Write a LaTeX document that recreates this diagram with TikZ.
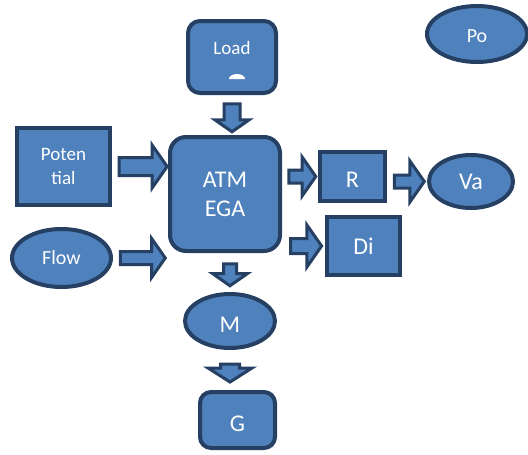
\documentclass[tikz,border=0pt]{standalone}
\usepackage{fontspec}
\setmainfont{Carlito}
\usetikzlibrary{shapes.geometric,shapes.arrows,calc}

\definecolor{boxfill}{RGB}{79,129,189}
\definecolor{boxline}{RGB}{37,64,98}

% fat block arrow between two points, #2 = gap left free at each end
\newcommand\blockarrow[4][]{%
  \path let \p1=($(#4)-(#3)$), \n1={veclen(\x1,\y1)-2*#2} in
    (#3) -- (#4) node[barrow,midway,sloped,allow upside down,minimum height=\n1,#1] {};}

\begin{document}
\begin{tikzpicture}[x=1pt,y=-1pt]
    \tikzstyle{blk}=[draw=boxline,fill=boxfill,line width=4pt,text=white,inner sep=0pt]
    \tikzstyle{sq}=[blk,rectangle]
    \tikzstyle{rsq}=[blk,rectangle,rounded corners=#1]
    \tikzstyle{oval}=[blk,ellipse]
    \tikzstyle{big}=[font=\fontsize{24}{29}\selectfont]
    \tikzstyle{low}=[text height=22pt,text depth=0pt]
    \tikzstyle{barrow}=[single arrow,draw=boxline,fill=boxfill,line width=3pt,line join=miter,
        inner xsep=0pt,inner ysep=5.5pt,minimum width=0pt,
        single arrow head extend=13pt,single arrow tip angle=110]
    \useasboundingbox (0,0) rectangle (528,455);

    % inputs
    \node[rsq=12pt,minimum width=88pt,minimum height=72pt,font=\fontsize{19}{23}\selectfont,
          text height=13pt,text depth=19pt] (load) at (232,57) {Load};
    \fill[white] ($(load.center)+(-3,22)$) arc[start angle=180,end angle=360,x radius=8,y radius=5] -- cycle;
    \node[oval,minimum width=100pt,minimum height=56pt,font=\fontsize{20}{24}\selectfont,
          text height=17pt,text depth=0pt] (po) at (477,34) {Po};
    \node[sq,minimum width=93pt,minimum height=77pt,align=center,font=\fontsize{19}{24}\selectfont] (pot) at (63.5,166.5) {Poten\\tial};
    \node[oval,minimum width=99pt,minimum height=58pt,font=\fontsize{20}{24}\selectfont] (flow) at (61.5,258) {Flow};

    % core
    \node[rsq=16pt,big,minimum width=110pt,minimum height=114pt,align=center] (atm) at (225,194) {ATM\\EGA};

    % outputs
    \node[sq,big,low,minimum width=65pt,minimum height=49pt] (r) at (352.5,176.5) {R};
    \node[oval,big,minimum width=84pt,minimum height=53pt] (va) at (471,181.5) {Va};
    \node[sq,big,minimum width=73pt,minimum height=58pt] (di) at (363.5,246) {Di};
    \node[oval,big,low,minimum width=90pt,minimum height=54pt] (m) at (230,321) {M};
    \node[rsq=11pt,big,low,minimum width=75pt,minimum height=56pt] (g) at (237.5,420) {G};

    \blockarrow[inner ysep=6.5pt,single arrow head extend=9pt]{6pt}{load.south}{load.south |- atm.north}
    \blockarrow[inner ysep=7.5pt,single arrow head extend=12.5pt]{4pt}{pot.east}{pot.east -| atm.west}
    \blockarrow[inner ysep=5pt]{5pt}{flow.east}{flow.east -| atm.west}
    \blockarrow[inner ysep=5pt,single arrow head extend=11pt]{8.5pt}{atm.south -| m.north}{m.north}
    \blockarrow[inner ysep=8pt,single arrow head extend=12.5pt,single arrow tip angle=115]{11pt}{m.south}{m.south |- g.north}
    \blockarrow[inner ysep=5pt]{4.5pt}{atm.east |- r.west}{r.west}
    \blockarrow[inner ysep=5pt,single arrow head extend=14pt]{5pt}{r.east |- va.west}{va.west}
    \blockarrow[inner ysep=6pt,single arrow head extend=13.5pt]{6pt}{atm.east |- di.west}{di.west}
\end{tikzpicture}
\end{document}
